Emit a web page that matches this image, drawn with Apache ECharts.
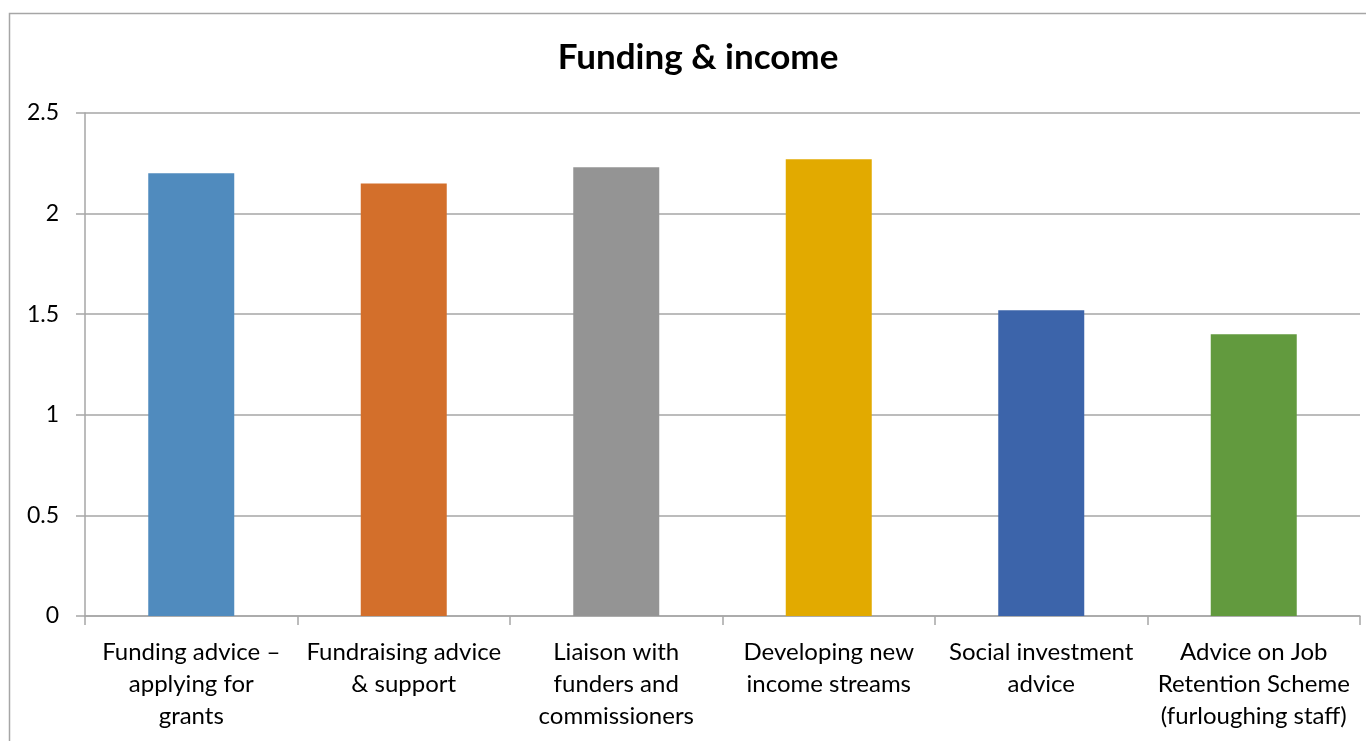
<!DOCTYPE html>
<html>
<head>
<meta charset="utf-8">
<title>Funding &amp; income</title>
<script src="https://cdn.jsdelivr.net/npm/echarts@6/dist/echarts.min.js"></script>
<style>
  html, body { margin: 0; padding: 0; background: #fff; }
  #chart { width: 1366px; height: 741px; }
</style>
</head>
<body>
<div id="chart"></div>
<script>
// Support areas (labels wrapped as they appear under the axis)
const categories = [
  'Funding advice \u2013\napplying for\ngrants',
  'Fundraising advice\n& support',
  'Liaison with\nfunders and\ncommissioners',
  'Developing new\nincome streams',
  'Social investment\nadvice',
  'Advice on Job\nRetention Scheme\n(furloughing staff)'
];
// Average rating per support area
const values = [2.2, 2.15, 2.23, 2.27, 1.52, 1.4];
const barColors = ['#508BBE', '#D36F2B', '#949494', '#E2AA00', '#3C64AA', '#629A3E'];
const yTicks = { min: 0, max: 2.5, interval: 0.5 };

const font = 'Lato, "Open Sans", "Liberation Sans", sans-serif';
const lineColor = '#A6A6A6';

const chart = echarts.init(document.getElementById('chart'), null, { renderer: 'canvas' });
chart.setOption({
  animation: false,
  backgroundColor: '#ffffff',
  // title centred on the outer chart frame, which runs past the right edge
  graphic: [{
    type: 'rect',
    shape: { x: 9.5, y: 13.5, width: 1500, height: 900 },
    style: { fill: null, stroke: lineColor, lineWidth: 1.5 },
    silent: true
  }, {
    type: 'text',
    x: 698,
    y: 58,
    style: {
      text: 'Funding & income',
      fontFamily: font,
      fontSize: 35,
      fontWeight: 'bold',
      fill: '#000',
      align: 'center',
      verticalAlign: 'middle'
    },
    silent: true
  }],
  grid: { left: 85, right: 6, top: 113, bottom: 125, containLabel: false },
  xAxis: {
    type: 'category',
    data: categories,
    boundaryGap: true,
    axisLine: { lineStyle: { color: lineColor, width: 1.5 } },
    axisTick: { show: true, length: 9, lineStyle: { color: lineColor, width: 1.5 } },
    axisLabel: {
      interval: 0,
      margin: 20,
      fontFamily: font,
      fontSize: 24,
      lineHeight: 32,
      color: '#000',
      align: 'center'
    }
  },
  yAxis: {
    type: 'value',
    min: yTicks.min,
    max: yTicks.max,
    interval: yTicks.interval,
    axisLine: { show: true, lineStyle: { color: lineColor, width: 1.5 } },
    axisTick: { show: true, length: 9, lineStyle: { color: lineColor, width: 1.5 } },
    splitLine: { show: true, lineStyle: { color: lineColor, width: 1.5 } },
    axisLabel: {
      margin: 26,
      fontFamily: font,
      fontSize: 23,
      color: '#000',
      formatter: v => String(v)
    }
  },
  series: [{
    type: 'bar',
    data: values.map((v, i) => ({ value: v, itemStyle: { color: barColors[i] } })),
    barWidth: 86
  }]
});
</script>
</body>
</html>
